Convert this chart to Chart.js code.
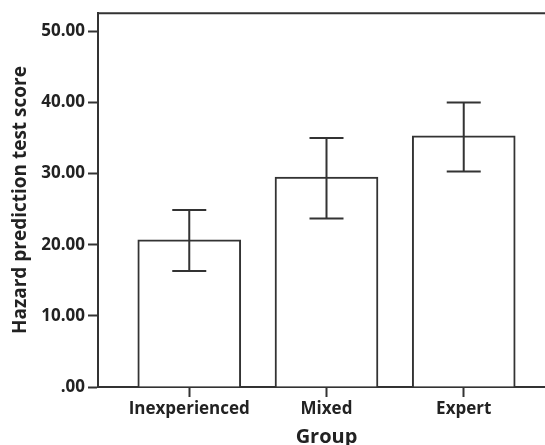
<!DOCTYPE html>
<html>
<head>
<meta charset="utf-8">
<script src="https://cdn.jsdelivr.net/npm/chart.js@4"></script>
<style>
  html, body { margin: 0; padding: 0; background: #fff; overflow: hidden; }
</style>
</head>
<body>
<canvas id="scoreChart" width="555" height="445"></canvas>
<script>
// group means and 95% CI bounds
const groups = ['Inexperienced', 'Mixed', 'Expert'];
const means = [20.7, 29.5, 35.3];
const ciLow = [16.3, 23.7, 30.3];
const ciHigh = [24.9, 35.0, 40.0];
const yTicks = [0, 10, 20, 30, 40, 50];

const ink = '#333333';
const textInk = '#222222';

// error bars + top frame line
const errorBars = {
    id: 'errorBars',
    afterDatasetsDraw(chart) {
        const ctx = chart.ctx;
        const xs = chart.scales.x, ys = chart.scales.y;
        const area = chart.chartArea;
        ctx.save();
        ctx.strokeStyle = ink;
        ctx.lineWidth = 2;
        groups.forEach((g, i) => {
            const x = xs.getPixelForValue(i + 1);
            const hi = ys.getPixelForValue(ciHigh[i]);
            const lo = ys.getPixelForValue(ciLow[i]);
            ctx.beginPath();
            ctx.moveTo(x, hi); ctx.lineTo(x, lo);
            ctx.moveTo(x - 17, hi); ctx.lineTo(x + 17, hi);
            ctx.moveTo(x - 17, lo); ctx.lineTo(x + 17, lo);
            ctx.stroke();
        });
        ctx.beginPath();
        ctx.moveTo(area.left, area.top);
        ctx.lineTo(area.right, area.top);
        ctx.stroke();
        ctx.restore();
    }
};

const chart = new Chart(document.getElementById('scoreChart').getContext('2d'), {
    type: 'bar',
    data: {
        datasets: [{
            data: means.map((m, i) => ({ x: i + 1, y: m })),
            backgroundColor: '#ffffff',
            borderColor: ink,
            borderWidth: 2,
            barThickness: 103
        }]
    },
    options: {
        responsive: false,
        animation: false,
        layout: { padding: { top: 12, left: 0, right: 0, bottom: 0 } },
        plugins: { legend: { display: false }, tooltip: { enabled: false } },
        scales: {
            x: {
                type: 'linear',
                offset: false,
                min: 0.335,
                max: 3.665,
                afterBuildTicks: s => { s.ticks = groups.map((g, i) => ({ value: i + 1 })); },
                afterFit: s => { s.height = 58; },
                grid: { offset: false, drawOnChartArea: false, drawTicks: true, tickLength: 10, tickColor: ink, tickWidth: 2 },
                border: { display: true, color: ink, width: 2 },
                ticks: {
                    autoSkip: false,
                    maxRotation: 0,
                    padding: 2,
                    color: textInk,
                    font: { family: 'Open Sans', size: 17, weight: 'bold' },
                    callback: v => groups[v - 1]
                },
                title: {
                    display: true,
                    text: 'Group',
                    color: textInk,
                    padding: { top: 0, bottom: 0 },
                    font: { family: 'Open Sans', size: 20, weight: 'bold', lineHeight: 0.75 }
                }
            },
            y: {
                min: 0,
                max: 52.55,
                afterBuildTicks: s => { s.ticks = yTicks.map(v => ({ value: v })); },
                afterFit: s => { s.width = 98; },
                grid: { drawOnChartArea: false, drawTicks: true, tickLength: 10, tickColor: ink, tickWidth: 2 },
                border: { display: true, color: ink, width: 2 },
                ticks: {
                    padding: 3,
                    color: textInk,
                    font: { family: 'Open Sans', size: 17, weight: 'bold' },
                    callback: v => v === 0 ? '.00' : v.toFixed(2)
                },
                title: {
                    display: true,
                    text: 'Hazard prediction test score',
                    color: textInk,
                    padding: { top: 9, bottom: 0 },
                    font: { family: 'Open Sans', size: 19, weight: 'bold' }
                }
            }
        }
    },
    plugins: [errorBars]
});
</script>
</body>
</html>
